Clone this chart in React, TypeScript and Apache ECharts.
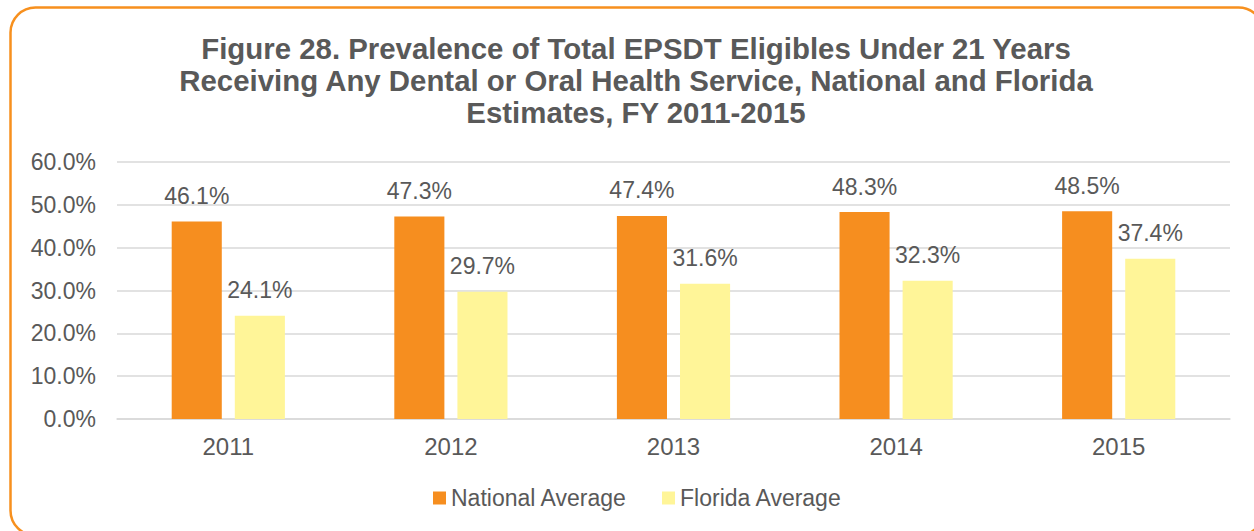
import React, { useEffect, useRef } from "react";
import * as echarts from "echarts";

const categories = ["2011", "2012", "2013", "2014", "2015"];
const nationalAverage = [46.1, 47.3, 47.4, 48.3, 48.5];
const floridaAverage = [24.1, 29.7, 31.6, 32.3, 37.4];
const seriesNames = ["National Average", "Florida Average"];
const titleText =
  "Figure 28. Prevalence of Total EPSDT Eligibles Under 21 Years\nReceiving Any Dental or Oral Health Service, National and Florida\nEstimates, FY 2011-2015";

const FONT = "Liberation Sans";
const TXT = "#595959";

export default function App() {
  const ref = useRef<HTMLDivElement>(null);
  useEffect(() => {
    if (!ref.current) return;
    const chart = echarts.init(ref.current, null, { renderer: "svg" });
    chart.setOption({
      animation: false,
      backgroundColor: "#ffffff",
      textStyle: { fontFamily: FONT },
      graphic: [
        {
          type: "rect",
          shape: { x: 10.5, y: 7.5, width: 1253, height: 528, r: 25 },
          style: { fill: "none", stroke: "#F7901E", lineWidth: 2.5 },
          silent: true,
        },
      ],
      title: {
        text: titleText,
        left: 631,
        textAlign: "center",
        top: 27,
        textStyle: {
          fontFamily: FONT,
          fontSize: 29.4,
          fontWeight: "bold",
          color: TXT,
          lineHeight: 32,
        },
      },
      legend: {
        data: seriesNames,
        top: 480,
        left: 428,
        itemWidth: 13,
        itemHeight: 13,
        itemGap: 35,
        icon: "rect",
        textStyle: { fontFamily: FONT, fontSize: 23, color: TXT, lineHeight: 26 },
      },
      grid: { left: 117, right: 24, top: 162, bottom: 112, containLabel: false },
      xAxis: {
        type: "category",
        data: categories,
        axisLine: { lineStyle: { color: "#d9d9d9", width: 1.5 } },
        axisTick: { show: false },
        axisLabel: { fontFamily: FONT, fontSize: 24, color: TXT, margin: 15 },
      },
      yAxis: {
        type: "value",
        min: 0,
        max: 60,
        interval: 10,
        axisLine: { show: false },
        axisTick: { show: false },
        splitLine: { lineStyle: { color: "#d9d9d9", width: 1.5 } },
        axisLabel: {
          fontFamily: FONT,
          fontSize: 23,
          color: TXT,
          margin: 21,
          formatter: (v: number) => v.toFixed(1) + "%",
        },
      },
      series: [
        {
          name: seriesNames[0],
          type: "bar",
          data: nationalAverage,
          barWidth: "22.5%",
          barGap: "26%",
          itemStyle: { color: "#F68E1F" },
          label: {
            show: true,
            position: "top",
            distance: 14,
            fontFamily: FONT,
            fontSize: 23,
            color: TXT,
            formatter: (p: any) => p.value.toFixed(1) + "%",
          },
        },
        {
          name: seriesNames[1],
          type: "bar",
          data: floridaAverage,
          barWidth: "22.5%",
          itemStyle: { color: "#FFF598" },
          label: {
            show: true,
            position: "top",
            distance: 14,
            fontFamily: FONT,
            fontSize: 23,
            color: TXT,
            formatter: (p: any) => p.value.toFixed(1) + "%",
          },
        },
      ],
    });
    return () => chart.dispose();
  }, []);
  return (
    <div
      ref={ref}
      style={{ position: "fixed", left: 0, top: 0, width: 1254, height: 531 }}
    />
  );
}
